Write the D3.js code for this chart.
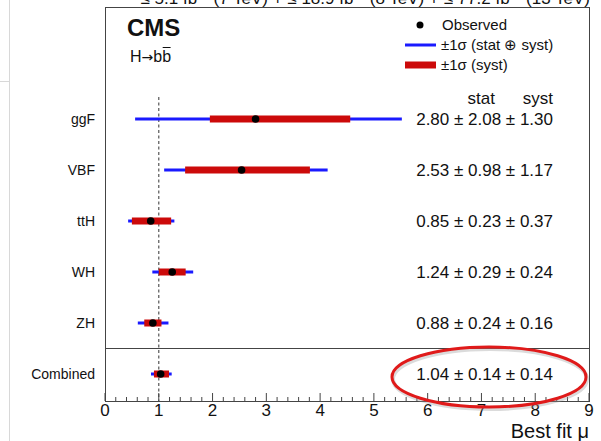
<!DOCTYPE html>
<html>
<head>
<meta charset="utf-8">
<script src="https://cdn.jsdelivr.net/npm/d3@7"></script>
<style>
  body { margin:0; background:#fff; }
  text { font-family: "Liberation Sans", Arial, sans-serif; fill:#111; }
</style>
</head>
<body>
<div id="chart"></div>
<script>
// values
var categories = ["ggF", "VBF", "ttH", "WH", "ZH", "Combined"];
var observed   = [2.80, 2.54, 0.85, 1.25, 0.89, 1.035];
var totLo      = [0.56, 1.10, 0.43, 0.88, 0.61, 0.855];
var totHi      = [5.52, 4.14, 1.29, 1.64, 1.18, 1.24];
var sysLo      = [1.95, 1.49, 0.50, 1.00, 0.73, 0.91];
var sysHi      = [4.56, 3.81, 1.23, 1.50, 1.05, 1.19];
var labels     = ["2.80 \u00b1 2.08 \u00b1 1.30", "2.53 \u00b1 0.98 \u00b1 1.17", "0.85 \u00b1 0.23 \u00b1 0.37",
                  "1.24 \u00b1 0.29 \u00b1 0.24", "0.88 \u00b1 0.24 \u00b1 0.16", "1.04 \u00b1 0.14 \u00b1 0.14"];
var xTicks     = [0, 1, 2, 3, 4, 5, 6, 7, 8, 9];

var W = 601, H = 441;
var margin = {top:7, right:12, bottom:40, left:105};
var width = W - margin.left - margin.right;
var height = H - margin.top - margin.bottom;

var svg = d3.select("#chart").append("svg")
    .attr("width", W).attr("height", H);

// page artefacts at the left edge
svg.append("line").attr("x1", 9.5).attr("x2", 9.5).attr("y1", 0).attr("y2", H)
    .attr("stroke", "#d8d8d8");
svg.append("line").attr("x1", 0).attr("x2", 9).attr("y1", 81.5).attr("y2", 81.5)
    .attr("stroke", "#d8d8d8");

// luminosity line, cut by the top edge as in the original screenshot
svg.append("text").attr("x", 590).attr("y", 4).attr("text-anchor", "end")
    .style("font-size", "17px")
    .text("\u2264 5.1 fb\u207b\u00b9 (7 TeV) + \u2264 18.9 fb\u207b\u00b9 (8 TeV) + \u2264 77.2 fb\u207b\u00b9 (13 TeV)");

var g = svg.append("g").attr("transform", "translate(" + margin.left + "," + margin.top + ")");

var x = d3.scaleLinear().domain([0, 9]).range([0, width]);
var y = d3.scalePoint().domain(categories).range([112, 367]);

// frame
g.append("rect").attr("x", 0.5).attr("y", 0.5).attr("width", width).attr("height", height)
    .attr("fill", "none").attr("stroke", "#444").attr("stroke-width", 1);
// separator above combined
g.append("line").attr("x1", 0).attr("x2", width).attr("y1", 341.5).attr("y2", 341.5)
    .attr("stroke", "#444");

// SM line
g.append("line").attr("x1", x(1)).attr("x2", x(1)).attr("y1", 90).attr("y2", height)
    .attr("stroke", "#555").attr("stroke-width", 1.2).attr("stroke-dasharray", "3,2.5");

// axis ticks (ROOT style, pointing inward)
var minor = d3.range(0, 9.001, 0.2);
g.selectAll(".mt").data(minor).enter().append("line")
    .attr("x1", function(d){ return x(d); }).attr("x2", function(d){ return x(d); })
    .attr("y1", height).attr("y2", function(d){ return Math.abs(d - Math.round(d)) < 1e-6 ? height - 8 : height - 4; })
    .attr("stroke", "#444");
g.selectAll(".tl").data(xTicks).enter().append("text")
    .attr("x", function(d){ return x(d); }).attr("y", height + 15)
    .attr("text-anchor", "middle").style("font-size", "17px")
    .text(function(d){ return d; });
g.append("text").attr("x", width).attr("y", height + 37).attr("text-anchor", "end")
    .style("font-size", "20px").text("Best fit \u03bc");

// rows
var rows = categories.map(function(c, i){
  return {c:c, obs:observed[i], tl:totLo[i], th:totHi[i], sl:sysLo[i], sh:sysHi[i], lab:labels[i]};
});
var row = g.selectAll(".row").data(rows).enter().append("g");
row.append("line")
    .attr("x1", function(d){ return x(d.tl); }).attr("x2", function(d){ return x(d.th); })
    .attr("y1", function(d){ return y(d.c); }).attr("y2", function(d){ return y(d.c); })
    .attr("stroke", "#1a1aff").attr("stroke-width", 3);
row.append("line")
    .attr("x1", function(d){ return x(d.sl); }).attr("x2", function(d){ return x(d.sh); })
    .attr("y1", function(d){ return y(d.c); }).attr("y2", function(d){ return y(d.c); })
    .attr("stroke", "#cc0a0a").attr("stroke-width", 7);
row.append("circle")
    .attr("cx", function(d){ return x(d.obs); }).attr("cy", function(d){ return y(d.c); })
    .attr("r", 3.8).attr("fill", "#000");
row.append("text")
    .attr("x", -10).attr("y", function(d){ return y(d.c) + 5; })
    .attr("text-anchor", "end").style("font-size", "14px")
    .text(function(d){ return d.c; });
row.append("text")
    .attr("x", 448).attr("y", function(d){ return y(d.c) + 6; })
    .attr("text-anchor", "end").style("font-size", "17px")
    .text(function(d){ return d.lab; });

// column headings
g.append("text").attr("x", 390).attr("y", 97).attr("text-anchor", "end")
    .style("font-size", "17px").text("stat");
g.append("text").attr("x", 448).attr("y", 97).attr("text-anchor", "end")
    .style("font-size", "17px").text("syst");

// CMS label
g.append("text").attr("x", 22).attr("y", 29).style("font-size", "24px")
    .style("font-weight", "bold").text("CMS");
var hb = g.append("text").attr("x", 25).attr("y", 55).style("font-size", "16px");
hb.append("tspan").text("H");
hb.append("tspan").style("font-family", "DejaVu Sans").style("font-size", "14px").text("\u2192");
hb.append("tspan").text("bb");
// bar over the second b, placed from the rendered glyph
var node = hb.node();
var n = node.getNumberOfChars();
var bx0 = node.getStartPositionOfChar(n - 1).x;
var bx1 = node.getEndPositionOfChar(n - 1).x;
g.append("line").attr("x1", bx0 + 0.5).attr("x2", bx1 - 0.5).attr("y1", 40.5).attr("y2", 40.5)
    .attr("stroke", "#111").attr("stroke-width", 1);

// legend
g.append("circle").attr("cx", 315).attr("cy", 18).attr("r", 3.5).attr("fill", "#000");
g.append("text").attr("x", 337).attr("y", 23).style("font-size", "15px").text("Observed");
g.append("line").attr("x1", 300).attr("x2", 331).attr("y1", 38).attr("y2", 38)
    .attr("stroke", "#1a1aff").attr("stroke-width", 3);
g.append("text").attr("x", 336).attr("y", 43).style("font-size", "15px")
    .text("\u00b11\u03c3 (stat \u2295 syst)");
g.append("line").attr("x1", 300).attr("x2", 331).attr("y1", 58).attr("y2", 58)
    .attr("stroke", "#cc0a0a").attr("stroke-width", 7);
g.append("text").attr("x", 336).attr("y", 63).style("font-size", "15px")
    .text("\u00b11\u03c3 (syst)");

// highlight ellipse around the combined result
svg.append("ellipse").attr("cx", 489).attr("cy", 377).attr("rx", 97).attr("ry", 30)
    .attr("fill", "none").attr("stroke", "#999").attr("stroke-opacity", 0.35)
    .attr("stroke-width", 4).attr("transform", "translate(1,2)");
svg.append("ellipse").attr("cx", 489).attr("cy", 377).attr("rx", 97).attr("ry", 30)
    .attr("fill", "none").attr("stroke", "#e01a1a").attr("stroke-width", 3);
</script>
</body>
</html>
